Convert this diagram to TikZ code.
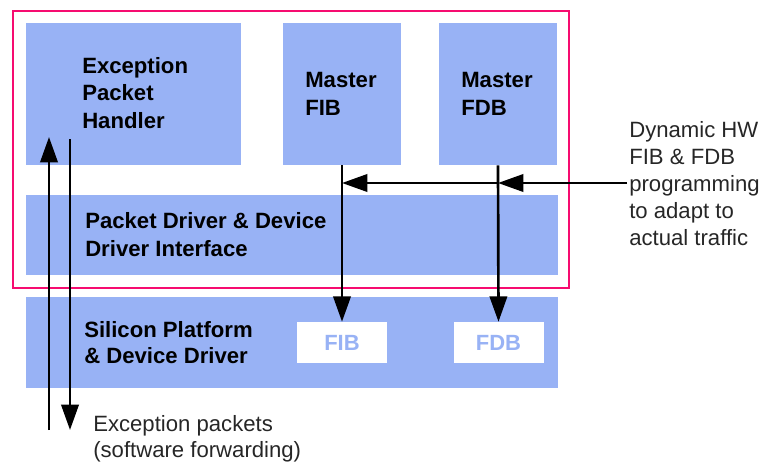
\documentclass[tikz,border=0pt]{standalone}
\usepackage{fontspec}
\setmainfont{Liberation Sans}
\usetikzlibrary{arrows.meta, fit}

\definecolor{boxblue}{RGB}{152,178,245}
\definecolor{framepink}{RGB}{246,12,112}

\tikzset{
    blk/.style={fill=boxblue, inner sep=0pt},
    slot/.style={fill=white, inner sep=0pt, text=boxblue, font=\bfseries\fontsize{16.5}{20}\selectfont},
    lbl/.style={anchor=base west, inner sep=0pt, align=left, font=\bfseries\fontsize{16.6}{20.5}\selectfont},
    note/.style={anchor=base west, inner sep=0pt, align=left, text=black!85, font=\fontsize{16.6}{20.25}\selectfont},
    flow/.style={line width=2pt, -{Triangle[length=19pt,width=13pt]}}
}

\begin{document}
\begin{tikzpicture}[x=0.75pt, y=-0.75pt]
    \useasboundingbox (0,0) rectangle (762,464);
    % software stack
    \node[blk, fit={(26,23) (241,165)}] (hdl) {};
    \node[blk, fit={(283,23) (401,165)}] (mfib) {};
    \node[blk, fit={(439,23) (557,165)}] (mfdb) {};
    \node[blk, fit={(26,195) (558,275)}] (drv) {};
    \draw[framepink, line width=2pt] (13,11) rectangle (569,288);
    % hardware
    \node[blk, fit={(26,297) (558,388)}] (sil) {};
    \node[slot, minimum width=67.5pt, minimum height=30.75pt] (fib) at (342,342.5) {FIB};
    \node[slot, minimum width=67.5pt, minimum height=30.75pt] (fdb) at (498.5,342.5) {FDB};

    % labels, placed by the baseline of their last line
    \node[lbl] (hdltxt) at (82,128) {Exception\\Packet\\Handler};
    \node[lbl] (mfibtxt) at (305,115) {Master\\FIB};
    \node[lbl] (mfdbtxt) at (461,115) {Master\\FDB};
    \node[lbl] (drvtxt) at (85,256) {Packet Driver \& Device\\Driver Interface};
    \node[lbl, font=\bfseries\fontsize{16.6}{19.5}\selectfont] (siltxt) at (84,363) {Silicon Platform\\\& Device Driver};

    \node[note] (dyn) at (629,245) {Dynamic HW\\FIB \& FDB\\programming\\to adapt to\\actual traffic};
    \node[note, font=\fontsize{16.6}{19}\selectfont] (exc) at (93,457) {Exception packets\\(software forwarding)};

    % exception path
    \coordinate (upfoot) at (49,430);
    \coordinate (uphead) at (49,137);
    \coordinate (dntop) at (70,139);
    \coordinate (dnfoot) at (70,430);
    \draw[flow] (upfoot) -- (uphead);
    \draw[flow] (dntop) -- (dnfoot);

    % table programming
    \draw[flow] (mfib.south) -- (fib.north);
    \draw[flow] (mfdb.south) -- (fdb.north);
    \coordinate (prog) at (627,183);
    \draw[flow] (prog) -- (prog -| mfdb.south);
    \draw[flow] (prog -| mfdb.south) -- (prog -| mfib.south);
\end{tikzpicture}
\end{document}
